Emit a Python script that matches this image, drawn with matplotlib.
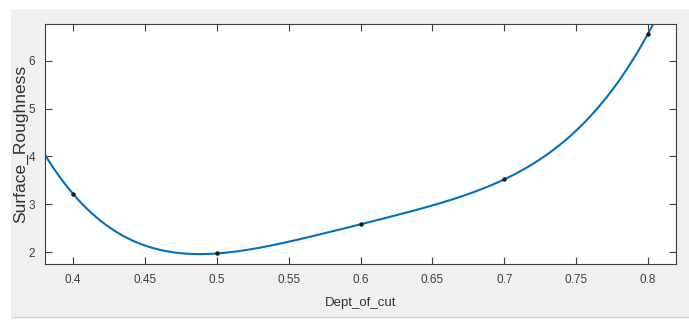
import numpy as np
import matplotlib.pyplot as plt
from matplotlib.patches import Rectangle

# measured points
depth = [0.4, 0.5, 0.6, 0.7, 0.8]
roughness = [3.22, 1.97, 2.58, 3.52, 6.57]
xticks = [0.4, 0.45, 0.5, 0.55, 0.6, 0.65, 0.7, 0.75, 0.8]
yticks = [2, 3, 4, 5, 6]

plt.rcParams['font.family'] = ['Liberation Sans', 'DejaVu Sans']

fig = plt.figure(figsize=(6.89, 3.22), dpi=100)
fig.patch.set_facecolor('white')
# MATLAB-style gray window background
fig.patches.append(Rectangle((11 / 689, 5 / 322), 1, 308 / 322, transform=fig.transFigure,
                             facecolor='#f0f0f0', edgecolor='none', zorder=-10))
fig.lines.append(plt.Line2D([11 / 689, 1], [5 / 322, 5 / 322], transform=fig.transFigure,
                            color='#d4d4d4', lw=1))

ax = fig.add_axes([45 / 689, 58 / 322, 631 / 689, 240 / 322])
ax.set_facecolor('white')

# smooth interpolating fit through the points
coef = np.polyfit(depth, roughness, 4)
xs = np.linspace(0.38, 0.82, 400)
ax.plot(xs, np.polyval(coef, xs), color='#0072BD', lw=1.5)
ax.plot(depth, roughness, 'o', color='#1a1a1a', ms=2.2)

ax.set_xlim(0.3806, 0.8194)
ax.set_ylim(1.75, 6.77)
ax.set_xticks(xticks)
ax.set_xticklabels([f'{t:g}' for t in xticks])
ax.set_yticks(yticks)

for s in ax.spines.values():
    s.set_color('#404040')
    s.set_linewidth(0.8)
ax.tick_params(direction='in', length=5, width=0.8, colors='#404040', labelsize=8.5,
               top=True, right=True, pad=7)
ax.set_xlabel('Dept_of_cut', fontsize=9.5, color='#333333', labelpad=8)
ax.set_ylabel('Surface_Roughness', fontsize=12.5, color='#333333', labelpad=0)

fig.savefig('out.png', dpi=100)
